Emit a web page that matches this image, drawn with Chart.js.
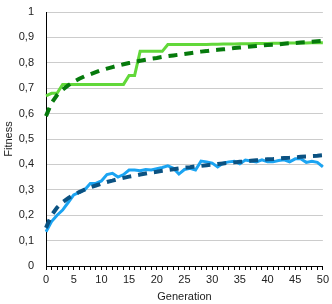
<!DOCTYPE html>
<html>
<head>
<meta charset="utf-8">
<script src="https://cdn.jsdelivr.net/npm/chart.js@4/dist/chart.umd.min.js"></script>
<style>
  html, body { margin: 0; padding: 0; background: #fff; }
  #wrap { width: 332px; height: 304px; }
</style>
</head>
<body>
<div id="wrap"><canvas id="myChart"></canvas></div>
<script>
const generations = Array.from({ length: 51 }, (_, i) => i);

// best fitness, task A (light green)
const greenBest = [0.67, 0.68, 0.68, 0.715, 0.715, 0.715, 0.715, 0.715, 0.715, 0.715,
  0.715, 0.715, 0.715, 0.715, 0.715, 0.75, 0.75, 0.845, 0.845, 0.845,
  0.845, 0.845, 0.872, 0.872, 0.872, 0.872, 0.872, 0.872, 0.872, 0.872,
  0.873, 0.873, 0.874, 0.874, 0.874, 0.875, 0.875, 0.875, 0.876, 0.876,
  0.876, 0.877, 0.877, 0.877, 0.878, 0.878, 0.878, 0.878, 0.879, 0.879, 0.879];

// trend, task A (dark green dashed)
const greenTrend = [0.590, 0.642, 0.673, 0.694, 0.711, 0.725, 0.737, 0.747, 0.755, 0.763,
  0.771, 0.777, 0.783, 0.789, 0.794, 0.799, 0.803, 0.808, 0.812, 0.816,
  0.819, 0.823, 0.826, 0.829, 0.832, 0.835, 0.838, 0.841, 0.844, 0.846,
  0.849, 0.851, 0.853, 0.855, 0.858, 0.860, 0.862, 0.864, 0.866, 0.868,
  0.870, 0.871, 0.873, 0.875, 0.877, 0.878, 0.880, 0.881, 0.883, 0.885, 0.886];

// best fitness, task B (light blue)
const blueBest = [0.135, 0.175, 0.20, 0.22, 0.25, 0.28, 0.29, 0.30, 0.325, 0.325,
  0.335, 0.36, 0.365, 0.35, 0.36, 0.378, 0.378, 0.375, 0.38, 0.378,
  0.383, 0.388, 0.394, 0.385, 0.362, 0.38, 0.385, 0.378, 0.413, 0.41,
  0.405, 0.39, 0.405, 0.41, 0.412, 0.402, 0.417, 0.413, 0.41, 0.418,
  0.41, 0.41, 0.415, 0.418, 0.41, 0.422, 0.422, 0.408, 0.412, 0.408, 0.39];

// trend, task B (dark blue dashed)
const blueTrend = [0.150, 0.200, 0.230, 0.251, 0.267, 0.280, 0.291, 0.301, 0.310, 0.317,
  0.324, 0.331, 0.336, 0.342, 0.347, 0.352, 0.356, 0.360, 0.364, 0.368,
  0.371, 0.375, 0.378, 0.381, 0.384, 0.387, 0.389, 0.392, 0.394, 0.397,
  0.399, 0.402, 0.404, 0.406, 0.408, 0.410, 0.412, 0.414, 0.416, 0.418,
  0.420, 0.421, 0.423, 0.425, 0.426, 0.428, 0.430, 0.431, 0.433, 0.434, 0.436];

const font = { family: "'Liberation Sans', Arial, sans-serif", size: 11 };

const line = (data, color, width, dash, order) => ({
  data: data,
  borderColor: color,
  borderWidth: width,
  borderDash: dash,
  pointRadius: 0,
  pointHoverRadius: 0,
  fill: false,
  tension: 0,
  order: order
});

new Chart(document.getElementById('myChart'), {
  type: 'line',
  data: {
    labels: generations,
    datasets: [
      line(greenBest, '#62d83a', 3, [], 2),
      line(greenTrend, '#067a0c', 4, [9, 7], 1),
      line(blueBest, '#1ba4f2', 3, [], 2),
      line(blueTrend, '#0b5282', 4, [9, 7], 1)
    ]
  },
  options: {
    responsive: true,
    maintainAspectRatio: false,
    animation: false,
    layout: { autoPadding: false, padding: { top: 0, right: 7, left: 0, bottom: 0 } },
    plugins: { legend: { display: false }, tooltip: { enabled: false } },
    scales: {
      x: {
        offset: false,
        afterFit: function (s) { s.height = 38; },
        grid: { display: true, drawOnChartArea: false, drawTicks: true, tickLength: 4, color: '#000' },
        border: { color: '#000', width: 1 },
        ticks: {
          autoSkip: false,
          maxRotation: 0,
          color: '#222',
          font: font,
          padding: 3,
          callback: function (v, i) { return i % 5 === 0 ? String(generations[i]) : ''; }
        },
        title: { display: true, text: 'Generation', color: '#222', font: font, padding: { top: 4, bottom: 0 } }
      },
      y: {
        min: 0,
        max: 1,
        // tick padding also pads the top of the axis, so pin it
        afterFit: function (s) { s.width = 46; s.paddingTop = 12; },
        grid: { color: '#cccccc', drawTicks: false, lineWidth: 1 },
        border: { color: '#000', width: 1 },
        ticks: {
          stepSize: 0.1,
          color: '#222',
          font: font,
          padding: 12,
          callback: function (v) {
            if (v === 0) return '0';
            if (v === 1) return '1';
            return v.toFixed(1).replace('.', ',');
          }
        },
        title: { display: true, text: 'Fitness', color: '#222', font: font, padding: { top: 2, bottom: 0 } }
      }
    }
  }
});
</script>
</body>
</html>
